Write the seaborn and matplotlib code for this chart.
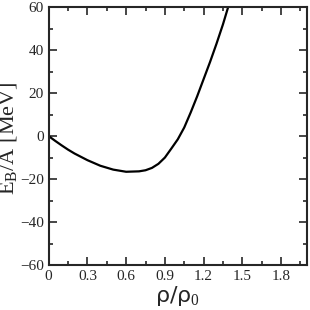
import numpy as np
import pandas as pd
import matplotlib
matplotlib.use('Agg')
import matplotlib.pyplot as plt
import seaborn as sns
from matplotlib.ticker import MultipleLocator

# density / saturation density and binding energy per nucleon
rho = [0.0, 0.05, 0.1, 0.15, 0.2, 0.3, 0.4, 0.5, 0.6, 0.7, 0.75, 0.8, 0.85,
       0.9, 0.95, 1.0, 1.05, 1.1, 1.15, 1.2, 1.25, 1.3, 1.35, 1.39]
eb = [0.0, -2.2, -4.3, -6.3, -8.1, -11.2, -13.8, -15.6, -16.6, -16.4, -15.9,
      -14.8, -12.9, -10.0, -5.8, -1.5, 4.0, 11.0, 18.5, 26.5, 34.5, 43.0, 52.0, 60.0]
xticks = [0, 0.3, 0.6, 0.9, 1.2, 1.5, 1.8]
xticklabels = ['0', '0.3', '0.6', '0.9', '1.2', '1.5', '1.8']

df = pd.DataFrame({'rho': rho, 'eb': eb})

sns.set_style('ticks')
plt.rcParams['font.family'] = ['Liberation Serif', 'DejaVu Serif']
plt.rcParams['mathtext.fontset'] = 'custom'
plt.rcParams['mathtext.rm'] = 'Liberation Serif'

fig, ax = plt.subplots(figsize=(3.1, 3.1), dpi=100)
fig.subplots_adjust(left=0.157, right=0.99, top=0.977, bottom=0.145)

sns.lineplot(data=df, x='rho', y='eb', color='black', lw=1.6, ax=ax)

ax.set_xlim(0, 2.0)
ax.set_ylim(-60, 60)
ax.xaxis.set_minor_locator(MultipleLocator(0.15))
ax.yaxis.set_major_locator(MultipleLocator(20))
ax.yaxis.set_minor_locator(MultipleLocator(10))
ax.set_xticks(xticks)
ax.set_xticklabels(xticklabels)
ax.tick_params(which='both', direction='in', top=True, right=True, labelsize=11, width=1.2)
ax.tick_params(which='major', length=6)
ax.tick_params(which='minor', length=3)
for s in ax.spines.values():
    s.set_linewidth(1.5)

ax.set_xlabel('ρ/ρ$_0$', fontsize=16, family='DejaVu Sans', labelpad=1)
ax.set_ylabel('E$_\\mathregular{B}$/A [MeV]', fontsize=16)
ax.yaxis.set_label_coords(-0.112, 0.49)

plt.savefig('out.png', dpi=100)
